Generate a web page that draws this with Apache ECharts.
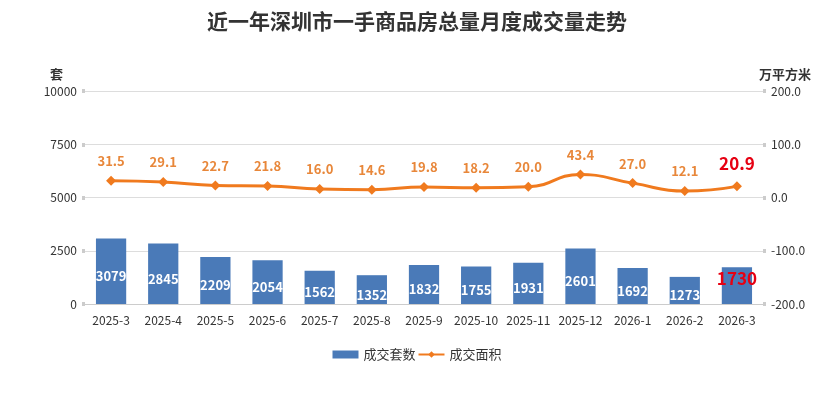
<!DOCTYPE html>
<html><head><meta charset="utf-8">
<script src="https://cdn.jsdelivr.net/npm/echarts@6/dist/echarts.min.js"></script>
<style>html,body{margin:0;padding:0;background:#fff}#c{width:834px;height:394px}</style>
</head><body><div id="c"></div>
<script>
const categories = ['2025-3','2025-4','2025-5','2025-6','2025-7','2025-8','2025-9','2025-10','2025-11','2025-12','2026-1','2026-2','2026-3'];
const units = [3079,2845,2209,2054,1562,1352,1832,1755,1931,2601,1692,1273,1730];
const area = [31.5,29.1,22.7,21.8,16.0,14.6,19.8,18.2,20.0,43.4,27.0,12.1,20.9];

const FONT = '"Noto Sans CJK SC", "Noto Sans", sans-serif';
const last = units.length - 1;
const barData = units.map((v,i)=> i===last ? {value:v,label:{position:'insideTop',offset:[0,-2],color:'#e60012',fontSize:17,fontWeight:'bold'}} : v);
const lineData = area.map((v,i)=> i===last ? {value:v,label:{color:'#e60012',fontSize:17,offset:[0,-1]}} : v);

const chart = echarts.init(document.getElementById('c'));
chart.setOption({
  animation:false,
  textStyle:{fontFamily:FONT},
  title:{text:'近一年深圳市一手商品房总量月度成交量走势',left:'center',top:6,textStyle:{fontFamily:FONT,fontSize:21,fontWeight:'bold',color:'#333'}},
  grid:{left:85,right:71,top:91,bottom:90},
  legend:{bottom:28,left:'center',itemGap:2,itemWidth:26,itemHeight:8,textStyle:{fontFamily:FONT,fontSize:13,color:'#333'},
    data:[{name:'成交套数',icon:'rect'},{name:'成交面积'}]},
  xAxis:{type:'category',data:categories,axisTick:{show:false},axisLine:{lineStyle:{color:'#ccc'}},
    axisLabel:{color:'#333',fontSize:12,margin:10,interval:0}},
  yAxis:[
    {type:'value',name:'套',min:0,max:10000,interval:2500,nameLocation:'end',nameGap:10,
     nameTextStyle:{color:'#333',fontSize:13,fontWeight:'bold',align:'right',padding:[0,22,0,0]},
     axisLine:{show:false},axisTick:{show:true,length:3,lineStyle:{color:'#ccc',width:4}},
     axisLabel:{color:'#333',fontSize:12,margin:8,formatter:v=>String(v)},splitLine:{lineStyle:{color:'#ddd'}}},
    {type:'value',name:'万平方米',min:-200,max:200,interval:100,nameLocation:'end',nameGap:10,
     nameTextStyle:{color:'#333',fontSize:13,fontWeight:'bold',align:'left',padding:[0,0,0,-4]},
     axisLine:{show:false},axisTick:{show:true,length:3,lineStyle:{color:'#ccc',width:4}},
     axisLabel:{color:'#333',fontSize:12,margin:8,formatter:v=>v.toFixed(1)},splitLine:{show:false}}
  ],
  series:[
    {name:'成交套数',type:'bar',data:barData,barWidth:'58%',itemStyle:{color:'#4a7ab8'},
     label:{show:true,position:'inside',offset:[0,5],color:'#fff',fontSize:13,fontWeight:'bold'}},
    {name:'成交面积',type:'line',yAxisIndex:1,data:lineData,smooth:true,symbol:'diamond',symbolSize:10,
     itemStyle:{color:'#f07a1e'},lineStyle:{color:'#f07a1e',width:3},
     label:{show:true,position:'top',distance:8,color:'#e8873a',fontSize:13,fontWeight:'bold',formatter:p=>Number(p.value).toFixed(1)}}
  ]
});
</script></body></html>
